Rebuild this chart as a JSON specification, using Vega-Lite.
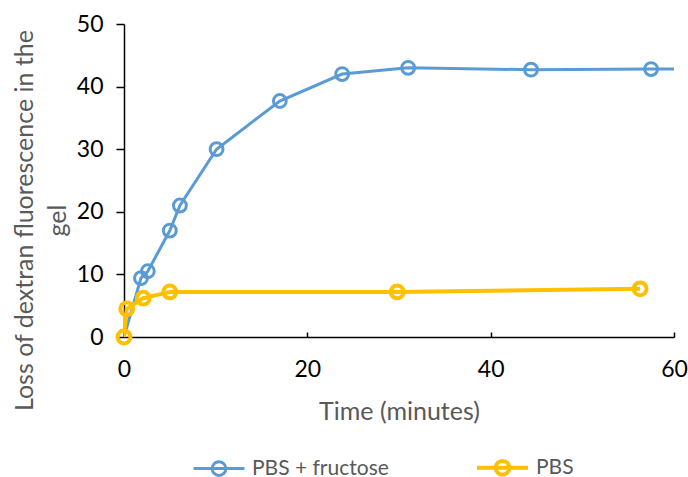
{
  "$schema": "https://vega.github.io/schema/vega-lite/v6.json",
  "autosize": "none",
  "width": 550,
  "height": 313,
  "padding": {"left": 124, "top": 24, "right": 14, "bottom": 140},
  "background": "white",
  "config": {"view": {"stroke": null}, "font": "Lato"},
  "data": {"values": [
    {"series": "PBS + fructose", "t": 0, "v": 0},
    {"series": "PBS + fructose", "t": 1.85, "v": 9.4},
    {"series": "PBS + fructose", "t": 2.6, "v": 10.5},
    {"series": "PBS + fructose", "t": 5.0, "v": 17},
    {"series": "PBS + fructose", "t": 6.1, "v": 21},
    {"series": "PBS + fructose", "t": 10.1, "v": 30},
    {"series": "PBS + fructose", "t": 17.0, "v": 37.7},
    {"series": "PBS + fructose", "t": 23.8, "v": 42},
    {"series": "PBS + fructose", "t": 31.0, "v": 43},
    {"series": "PBS + fructose", "t": 44.4, "v": 42.7},
    {"series": "PBS + fructose", "t": 57.5, "v": 42.8},
    {"series": "PBS + fructose", "t": 64, "v": 42.8},
    {"series": "PBS", "t": 0, "v": 0},
    {"series": "PBS", "t": 0.3, "v": 4.5},
    {"series": "PBS", "t": 2.1, "v": 6.2},
    {"series": "PBS", "t": 5.0, "v": 7.2},
    {"series": "PBS", "t": 29.8, "v": 7.2},
    {"series": "PBS", "t": 56.3, "v": 7.7}
  ]},
  "encoding": {
    "x": {"field": "t", "type": "quantitative", "title": "Time (minutes)",
      "scale": {"domain": [0, 60], "nice": false},
      "axis": {"values": [0, 20, 40, 60], "grid": false, "labelFlush": false, "tickSize": -5, "tickColor": "#000000", "tickWidth": 1.5, "domainColor": "#000000", "domainWidth": 1.5,
        "labelFontSize": 23, "labelColor": "#000000", "labelPadding": 26,
        "titleFontSize": 25, "titleColor": "#595959", "titleFontWeight": "normal", "titlePadding": 18}},
    "y": {"field": "v", "type": "quantitative",
      "title": ["Loss of dextran fluorescence in the", "gel"],
      "scale": {"domain": [0, 50], "nice": false},
      "axis": {"values": [0, 10, 20, 30, 40, 50], "grid": false, "labelFlush": false, "tickSize": 8, "tickColor": "#000000", "tickWidth": 1.5, "domainColor": "#000000", "domainWidth": 1.5,
        "labelFontSize": 23, "labelColor": "#000000", "labelPadding": 13,
        "titleFontSize": 25, "titleColor": "#595959", "titleFontWeight": "normal", "titlePadding": 6, "titleLineHeight": 33, "titleY": 196}},
    "color": {"field": "series", "type": "nominal",
      "scale": {"domain": ["PBS + fructose", "PBS"], "range": ["#5B9BD5", "#FFC000"]},
      "legend": {"orient": "none", "legendX": 68, "legendY": 416, "direction": "horizontal", "title": null,
        "labelFontSize": 21, "labelColor": "#595959", "labelLimit": 400, "columnPadding": 80, "labelOffset": 6,
        "symbolSize": 2601, "symbolStrokeWidth": 3, "symbolFillColor": "transparent", "symbolOpacity": 1,
        "symbolType": "M-1,0H1M0.27,0A0.27,0.27 0 1,1 -0.27,0A0.27,0.27 0 1,1 0.27,0"}}
  },
  "layer": [
    {"mark": {"type": "line", "clip": true},
     "encoding": {"strokeWidth": {"field": "series", "type": "nominal", "scale": {"domain": ["PBS + fructose", "PBS"], "range": [3, 4]}, "legend": null}}},
    {"transform": [{"filter": "datum.t <= 60"}],
     "mark": {"type": "point", "filled": false, "size": 165, "opacity": 1},
     "encoding": {
       "strokeWidth": {"field": "series", "type": "nominal", "scale": {"domain": ["PBS + fructose", "PBS"], "range": [3, 1.7]}, "legend": null}}}
  ]
}
